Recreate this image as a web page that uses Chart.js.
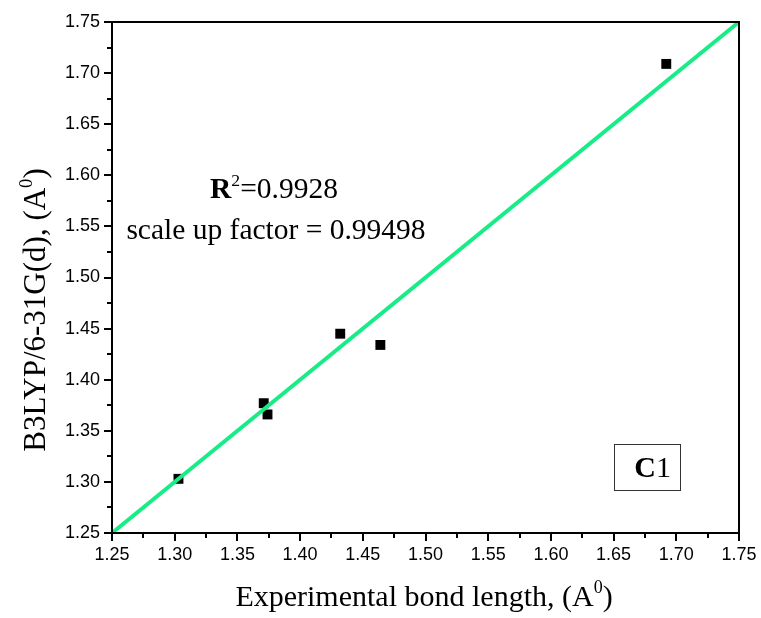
<!DOCTYPE html>
<html>
<head>
<meta charset="utf-8">
<script src="https://cdn.jsdelivr.net/npm/chart.js@4/dist/chart.umd.min.js"></script>
<style>
  html, body { margin: 0; padding: 0; background: #fff; }
  #wrap { width: 761px; height: 618px; }
</style>
</head>
<body>
<div id="wrap"><canvas id="c" width="761" height="618"></canvas></div>
<script>
// experimental vs calculated bond lengths (A^0)
const expLength  = [1.303, 1.371, 1.374, 1.432, 1.464, 1.692];
const calcLength = [1.303, 1.377, 1.366, 1.445, 1.434, 1.709];

// fitted line y = x
const fitX = [1.25, 1.75];
const fitY = [1.25, 1.75];

const axisMin = 1.25;
const axisMax = 1.75;
const tickStep = 0.05;

const serif = '"Liberation Serif", "Times New Roman", serif';
const sans  = '"Liberation Sans", Arial, sans-serif';

// text pieces [{t, bold, sup}] laid out one after another
function runWidth(ctx, parts, size) {
  let w = 0;
  parts.forEach(p => {
    const s = p.sup ? size * 0.6 : size;
    ctx.font = (p.bold ? 'bold ' : '') + s + 'px ' + serif;
    w += ctx.measureText(p.t).width;
  });
  return w;
}
function drawRun(ctx, parts, size, x, y) {
  parts.forEach(p => {
    const s = p.sup ? size * 0.6 : size;
    ctx.font = (p.bold ? 'bold ' : '') + s + 'px ' + serif;
    ctx.fillText(p.t, x, p.sup ? y - size * 0.42 : y);
    x += ctx.measureText(p.t).width;
  });
}

// frame, ticks, titles and notes
const decor = {
  id: 'decor',
  afterDraw(chart) {
    const { ctx, chartArea: a, scales } = chart;
    ctx.save();
    ctx.strokeStyle = '#000';
    ctx.lineWidth = 2;
    ctx.strokeRect(a.left, a.top, a.right - a.left, a.bottom - a.top);

    // major + minor ticks, outward on bottom and left
    for (let i = 0; i <= 20; i++) {
      const v = axisMin + i * tickStep / 2;
      const len = i % 2 === 0 ? 8 : 5;
      const px = Math.round(scales.x.getPixelForValue(v));
      const py = Math.round(scales.y.getPixelForValue(v));
      ctx.beginPath();
      ctx.moveTo(px, a.bottom);
      ctx.lineTo(px, a.bottom + len);
      ctx.moveTo(a.left, py);
      ctx.lineTo(a.left - len, py);
      ctx.stroke();
    }

    ctx.fillStyle = '#000';
    ctx.textBaseline = 'alphabetic';

    // x title
    const xt = [{ t: 'Experimental bond length, (A' }, { t: '0', sup: true }, { t: ')' }];
    const xw = runWidth(ctx, xt, 30);
    drawRun(ctx, xt, 30, 424 - xw / 2, 606);

    // y title
    const yt = [{ t: 'B3LYP/6-31G(d), (A' }, { t: '0', sup: true }, { t: ')' }];
    const yw = runWidth(ctx, yt, 31);
    ctx.save();
    ctx.translate(45, 310);
    ctx.rotate(-Math.PI / 2);
    drawRun(ctx, yt, 31, -yw / 2, 0);
    ctx.restore();

    // R^2 note
    const r2 = [{ t: 'R', bold: true }, { t: '2', sup: true }, { t: '=0.9928' }];
    const rw = runWidth(ctx, r2, 29.5);
    drawRun(ctx, r2, 29.5, 274 - rw / 2, 198);
    const sf = [{ t: 'scale up factor = 0.99498' }];
    const sw = runWidth(ctx, sf, 29.5);
    drawRun(ctx, sf, 29.5, 276 - sw / 2, 239);

    // C1 label box
    ctx.lineWidth = 1;
    ctx.strokeStyle = '#333';
    ctx.strokeRect(614.5, 444.5, 66, 46);
    const cl = [{ t: 'C', bold: true }, { t: '1' }];
    const cw = runWidth(ctx, cl, 30);
    drawRun(ctx, cl, 30, 671 - cw, 477);
    ctx.restore();
  }
};

new Chart(document.getElementById('c'), {
  type: 'scatter',
  data: {
    datasets: [
      {
        type: 'line',
        data: fitX.map((x, i) => ({ x, y: fitY[i] })),
        borderColor: '#18ec86',
        borderWidth: 4,
        pointRadius: 0,
        fill: false,
        order: 0,
      },
      {
        data: expLength.map((x, i) => ({ x, y: calcLength[i] })),
        pointStyle: 'rect',
        pointRadius: 7,
        pointBorderWidth: 0,
        backgroundColor: '#000',
        borderColor: '#000',
        order: 1,
      },
    ],
  },
  options: {
    responsive: false,
    animation: false,
    events: [],
    layout: { padding: { top: 22, right: 22, left: 0, bottom: 0 } },
    plugins: { legend: { display: false }, tooltip: { enabled: false } },
    scales: {
      x: {
        type: 'linear',
        min: axisMin,
        max: axisMax,
        grid: { display: false, drawTicks: false },
        border: { display: false },
        ticks: {
          stepSize: tickStep,
          padding: 11,
          color: '#000',
          maxRotation: 0,
          font: { family: sans, size: 18 },
          callback: v => v.toFixed(2),
        },
        afterFit(s) {
          s.height = 85;
          s.paddingLeft = 0;
          s.paddingRight = 0;
        },
      },
      y: {
        type: 'linear',
        min: axisMin,
        max: axisMax,
        grid: { display: false, drawTicks: false },
        border: { display: false },
        ticks: {
          stepSize: tickStep,
          padding: 12,
          color: '#000',
          font: { family: sans, size: 18 },
          callback: v => v.toFixed(2),
        },
        afterFit(s) {
          s.width = 112;
          s.paddingTop = 0;
          s.paddingBottom = 0;
        },
      },
    },
  },
  plugins: [decor],
});
</script>
</body>
</html>
